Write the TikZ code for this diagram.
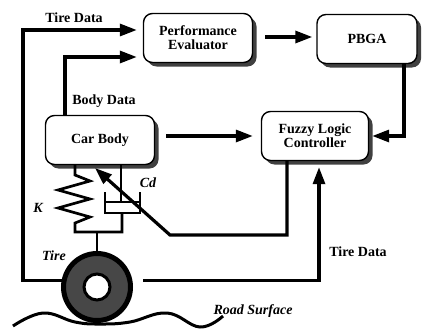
\documentclass[tikz,border=0pt]{standalone}
\usepackage{fontspec}
\setmainfont{Liberation Serif}
\usetikzlibrary{arrows.meta,shadows}

\tikzset{
  block/.style={draw, line width=1.4pt, rounded corners=9pt, fill=white,
    minimum width=109pt, minimum height=49pt, align=center,
    font=\fontsize{14}{14}\selectfont\bfseries,
    drop shadow={shadow xshift=4pt, shadow yshift=-4pt, opacity=1, fill=black!75}},
  flow/.style={line width=3.2pt, -{Triangle[length=17pt,width=12pt]}},
  part/.style={line width=2.7pt},
  lbl/.style={font=\fontsize{14}{14}\selectfont\bfseries},
  ital/.style={font=\fontsize{14}{14}\selectfont\bfseries\itshape},
}

\begin{document}
\begin{tikzpicture}[x=1pt,y=-1pt]
\useasboundingbox (0,0) rectangle (422,329);

\node[block]                     (perf)  at (198,38)  {Performance\\Evaluator};
\node[block,minimum width=100pt] (pbga)  at (367,39)  {PBGA};
\node[block]                     (body)  at (100,140) {Car Body};
\node[block,minimum width=107pt] (fuzzy) at (315,136) {Fuzzy Logic\\Controller};

\node[circle,draw,line width=5pt,fill=black!72,minimum size=67pt,inner sep=0pt] (tire) at (97,287) {};
\node[circle,draw,line width=3pt,fill=white,minimum size=26pt,inner sep=0pt]    (hub)  at (tire.center) {};

\coordinate (ktop)    at (75,175);
\coordinate (kbot)    at (75,232);
\coordinate (axle)    at (97,232);
\coordinate (rod)     at (121,202);
\coordinate (tcorner) at (23,30);
\coordinate (bend)    at (170,235);
\coordinate (valve)   at (95,168);

% spring K and damper Cd
\draw[part] (body.south -| ktop) -- (ktop) -- (90,181) -- (58,190) -- (90,199)
            -- (58,208) -- (90,217) -- (75,223) -- (kbot) -| (122,213);
\draw[part] (105,192) -- (105,213) -- (140,213) -- (140,192);
\draw[part] (body.south -| rod) -- (rod);
\draw[part] (105,202) -- (140,202);
\draw[part] (tire.north) -- (axle);

% road
\draw[line width=3pt] plot[smooth,tension=0.7] coordinates
  {(13,326) (43,313) (75,322) (100,324) (130,322) (167,313) (200,327) (223,316)};

% signal lines
\draw[flow,shorten >=6pt] (tire.170) -| (tcorner) -- (tcorner -| perf.west);
\draw[flow,shorten >=6pt] ([xshift=-35pt]body.north) |- ([yshift=-19pt]perf.west);
\draw[flow,shorten <=12pt,shorten >=4pt] ([yshift=1pt]perf.east) -- ([yshift=1pt]perf.east -| pbga.west);
\draw[flow,shorten >=3pt] ([xshift=37pt]pbga.south) |- (fuzzy.east);
\draw[flow,shorten <=11pt,shorten >=8pt] (fuzzy.west -| body.east) -- (fuzzy.west);
\draw[flow] ([xshift=-28pt]fuzzy.south) |- (bend) -- (valve);
\draw[flow,shorten <=11pt,shorten >=6pt] (tire.10) -| ([xshift=4pt]fuzzy.south);

\node[lbl]  (tdtop)   at (74,18)   {Tire Data};
\node[lbl]  (bdata)   at (104,101) {Body Data};
\node[lbl]  (tdright) at (358,252) {Tire Data};
\node[ital] (klbl)    at (38,208)  {K};
\node[ital] (cdlbl)   at (148,183) {Cd};
\node[ital] (tlbl)    at (54,256)  {Tire};
\node[ital,anchor=west] (road) at (210,311) {Road Surface};
\end{tikzpicture}
\end{document}
